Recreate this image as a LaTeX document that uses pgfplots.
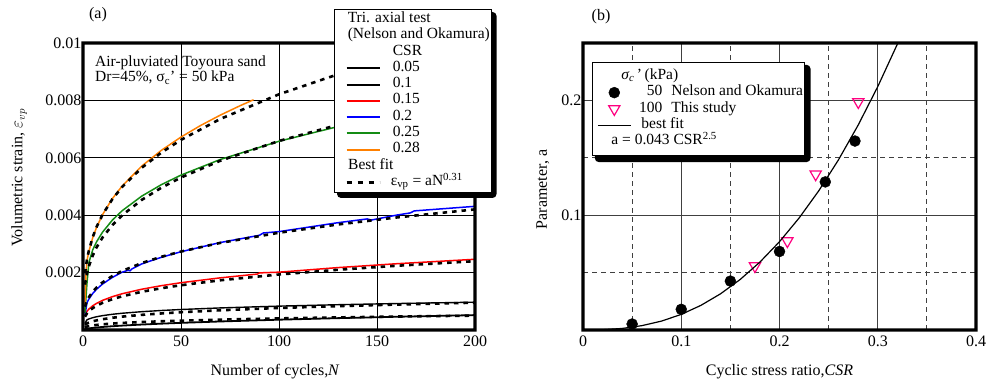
\documentclass[border=0pt]{standalone}
\usepackage{fontspec}
\setmainfont{Liberation Serif}
\usepackage{pgfplots}
\pgfplotsset{compat=1.18}
\definecolor{cgreen}{RGB}{20,140,20}
\definecolor{corange}{RGB}{255,128,0}
\definecolor{cpink}{RGB}{255,0,128}
\newcommand{\fs}{\fontsize{16}{18}\selectfont}
\newcommand{\fl}{\fontsize{15.5}{16.3}\selectfont}
\pgfplotsset{
  myaxis/.style={scale only axis, anchor=south west, clip mode=individual,
    axis line style={line width=2.6pt, black},
    tick label style={font=\fs}, label style={font=\fs},
    major tick length=0pt, minor tick length=0pt,
    /pgf/number format/assume math mode=true,
    scaled ticks=false, legend cell align=left},
  fit/.style={black, line width=2.6pt, dash pattern=on 4.5pt off 5pt},
  markleg/.style={legend image code/.code={\path (-4pt,0pt) (33pt,0pt); \draw[##1] plot coordinates {(16.5pt,0pt)};}},
  fitleg/.style={legend image code/.code={\path (-10pt,0pt); \draw[##1, line width=2.6pt, dash pattern=on 5pt off 6pt] (0pt,0pt) -- (33pt,0pt);}},
}
\begin{document}
\begin{tikzpicture}[x=1pt,y=1pt]
\useasboundingbox (0pt,0pt) rectangle (987pt,385pt);
\begin{axis}[myaxis, at={(83pt,55pt)}, width=392pt, height=287pt,
  xmin=0, xmax=200, ymin=0, ymax=0.01,
  xtick={0,50,100,150,200}, xticklabels={0,50,100,150,200},
  ytick={0.002,0.004,0.006,0.008,0.01}, yticklabels={0.002,0.004,0.006,0.008,0.01},
  xticklabel style={yshift=-2pt},
  yticklabel style={inner sep=1.5pt},
  grid=major, major grid style={black, line width=0.8pt},
  xlabel={Number of cycles,\textit{N}},
  ylabel={Volumetric strain, $\varepsilon_{vp}$},
  xlabel style={at={(axis description cs:0.49,-0.146)}, anchor=center},
  ylabel style={at={(axis description cs:-0.163,0.53)}, anchor=center},
  legend image code/.code={\path (-10pt,0pt); \draw[#1, line width=2pt] (0pt,0pt) -- (33pt,0pt);},
  legend style={at={(0.6403,1.1185)}, anchor=north west, font=\fl,
    draw=black, fill=white,
    inner xsep=1pt, inner ysep=2pt, column sep=12pt, row sep=0pt,
    nodes={inner sep=0pt, text height=11.3pt, text depth=5pt}},
]
\addlegendimage{empty legend}\addlegendentry{\hspace*{-45pt}Tri. axial test}
\addlegendimage{empty legend}\addlegendentry{\hspace*{-45pt}(Nelson and Okamura)}
\addlegendimage{empty legend}\addlegendentry{CSR}
% CSR 0.05
\addplot[black, line width=1.8pt] coordinates {(1,0.0000313)(2,0.0000452)(3,0.000056)(5,0.0000735)(7,0.0000878)(10,0.000106)(15,0.000131)(20,0.000153)(30,0.00019)(40,0.000221)(50,0.000249)(70,0.000297)(100,0.000359)(130,0.000413)(160,0.000461)(200,0.000519)};
\addlegendentry{0.05}
% CSR 0.1
\addplot[black, line width=1.4pt] coordinates {(1,0.00024)(2,0.000352)(3,0.000385)(5,0.00043)(7,0.000463)(10,0.000501)(15,0.000548)(20,0.000584)(30,0.000638)(40,0.00068)(50,0.000714)(70,0.000769)(100,0.000832)(130,0.000881)(160,0.000922)(200,0.000969)};
\addlegendentry{0.1}
% CSR 0.15
\addplot[red, line width=1.5pt] coordinates {(1,0.0005)(2,0.000648)(3,0.000729)(5,0.000845)(7,0.000932)(10,0.001033)(15,0.001162)(20,0.001264)(30,0.001421)(40,0.001545)(50,0.001648)(70,0.001817)(89,0.00195)(90,0.00199)(100,0.002015)(130,0.002174)(160,0.002309)(200,0.002464)};
\addlegendentry{0.15}
% CSR 0.2
\addplot[blue, line width=1.5pt] coordinates {(1,0.0005)(2,0.000943)(3,0.001078)(5,0.001276)(7,0.001425)(10,0.001604)(15,0.001833)(20,0.002016)(23,0.00208)(24,0.00206)(25,0.00213)(30,0.002304)(40,0.002534)(50,0.002727)(70,0.003047)(90,0.0033)(92,0.00338)(100,0.003428)(130,0.003738)(145,0.00387)(147,0.00383)(160,0.004003)(167,0.00408)(169,0.00415)(200,0.004309)};
\addlegendentry{0.2}
% CSR 0.25
\addplot[cgreen, line width=1.5pt] coordinates {(1,0.0006)(1.5,0.0011)(2,0.0016)(3,0.00235)(5,0.0028)(7,0.003082)(10,0.003412)(15,0.00383)(20,0.004157)(30,0.004666)(40,0.005065)(50,0.005397)(70,0.00594)(100,0.006576)(130,0.007087)(160,0.007519)(200,0.008012)};
\addlegendentry{0.25}
% CSR 0.28
\addplot[corange, line width=1.5pt] coordinates {(1,0.0009)(1.5,0.0019)(2,0.00241)(3,0.00274)(5,0.003225)(7,0.00359)(10,0.004023)(15,0.004579)(20,0.005019)(30,0.005712)(40,0.006261)(50,0.006723)(60,0.007126)(70,0.007485)(80,0.00781)(87,0.008022)};
\addlegendentry{0.28}
\addlegendimage{empty legend}\addlegendentry{\hspace*{-45pt}Best fit}
% fits
\addplot[fit, fitleg] coordinates {(1,0.00197)(2,0.002442)(3,0.002769)(5,0.003244)(7,0.003601)(10,0.004022)(15,0.004561)(20,0.004986)(30,0.005654)(40,0.006182)(50,0.006624)(70,0.007352)(100,0.008212)(130,0.008908)(160,0.0095)(200,0.010181)};
\addlegendentry{\hspace*{-2pt}ε\textsubscript{vp} = aN\textsuperscript{0.31}}
\addplot[fit, forget plot] coordinates {(1,0.00158)(2,0.001959)(3,0.002221)(5,0.002602)(7,0.002888)(10,0.003226)(15,0.003658)(20,0.003999)(30,0.004535)(40,0.004958)(50,0.005313)(70,0.005897)(100,0.006587)(130,0.007145)(160,0.00762)(200,0.008166)};
\addplot[fit, forget plot] coordinates {(1,0.000813)(2,0.001008)(3,0.001143)(5,0.001339)(7,0.001486)(10,0.00166)(15,0.001882)(20,0.002058)(30,0.002334)(40,0.002551)(50,0.002734)(70,0.003034)(100,0.003389)(130,0.003676)(160,0.003921)(200,0.004202)};
\addplot[fit, forget plot] coordinates {(1,0.000464)(2,0.000575)(3,0.000652)(5,0.000764)(7,0.000848)(10,0.000947)(15,0.001074)(20,0.001174)(30,0.001332)(40,0.001456)(50,0.00156)(70,0.001732)(100,0.001934)(130,0.002098)(160,0.002238)(200,0.002398)};
\addplot[fit, forget plot] coordinates {(1,0.000184)(2,0.000228)(3,0.000259)(5,0.000303)(7,0.000336)(10,0.000376)(15,0.000426)(20,0.000466)(30,0.000528)(40,0.000577)(50,0.000619)(70,0.000687)(100,0.000767)(130,0.000832)(160,0.000887)(200,0.000951)};
\addplot[fit, forget plot] coordinates {(1,0.000097)(2,0.00012)(3,0.000136)(5,0.00016)(7,0.000177)(10,0.000198)(15,0.000225)(20,0.000246)(30,0.000278)(40,0.000304)(50,0.000326)(70,0.000362)(100,0.000404)(130,0.000439)(160,0.000468)(200,0.000501)};
% frame ring and legend shadow (fills, drawn before the legend)
\fill[black, even odd rule] (axis description cs:-0.0043,-0.0059) rectangle (axis description cs:1.0043,1.0059)
   (axis description cs:0.0043,0.0059) rectangle (axis description cs:0.9957,0.9941);
\fill[black, rounded corners=4pt] (axis description cs:0.6480,0.4600) rectangle (axis description cs:1.0550,1.1080);
\node[font=\fl, anchor=base west, inner sep=0pt] at (axis description cs:0.0306,0.9164) {Air-pluviated Toyoura sand};
\node[font=\fl, anchor=base west, inner sep=0pt] at (axis description cs:0.0306,0.8641) {Dr=45\%, σ\textsubscript{c}' = 50 kPa};
\end{axis}

\begin{axis}[myaxis, at={(583pt,55pt)}, width=393pt, height=287pt,
  xmin=0, xmax=0.4, ymin=0, ymax=0.25,
  xtick={0,0.1,0.2,0.3,0.4}, xticklabels={0,0.1,0.2,0.3,0.4},
  minor xtick={0.05,0.15,0.25,0.35},
  ytick={0.1,0.2}, yticklabels={0.1,0.2},
  minor ytick={0.05,0.15},
  xticklabel style={yshift=-2pt},
  yticklabel style={inner sep=1.5pt},
  grid=both, major grid style={black!75, line width=0.8pt},
  minor grid style={black!75, line width=0.8pt, dash pattern=on 5pt off 4pt},
  xlabel={Cyclic stress ratio,\textit{CSR}},
  ylabel={Parameter, a},
  xlabel style={at={(axis description cs:0.5,-0.146)}, anchor=center},
  ylabel style={at={(axis description cs:-0.102,0.49)}, anchor=center},
  legend image code/.code={\path (-4pt,0pt); \draw[#1] (0pt,0pt) -- (33pt,0pt);},
  legend style={at={(0.0229,0.9338)}, anchor=north west, font=\fl,
    draw=black, fill=white,
    inner xsep=1pt, inner ysep=6pt, column sep=8pt, row sep=0pt,
    nodes={inner sep=0pt, text height=11.3pt, text depth=5pt}},
]
\addlegendimage{empty legend}\addlegendentry{\hspace*{-18pt}\textit{σ\textsubscript{c}}\,'\,(kPa)}
\addplot[only marks, mark=*, mark size=5.5pt, black, markleg]
  coordinates {(0.05,0.0052)(0.1,0.018)(0.15,0.0426)(0.2,0.0684)(0.2466,0.129)(0.2768,0.1646)};
\addlegendentry{\makebox[23pt][r]{50}\hspace{9pt}Nelson and Okamura}
\addplot[only marks, mark=triangle, mark size=6.5pt, cpink, line width=1.2pt, mark options={rotate=180}, markleg]
  coordinates {(0.175,0.0557)(0.208,0.0775)(0.2368,0.1357)(0.2802,0.1986)};
\addlegendentry{\makebox[23pt][r]{100}\hspace{9pt}This study}
\addplot[black, line width=1.2pt] coordinates {(0,0)(0.02,0.00024)(0.04,0.00138)(0.06,0.00379)(0.08,0.00778)(0.1,0.0136)(0.12,0.02145)(0.14,0.03154)(0.16,0.04403)(0.18,0.0591)(0.2,0.07693)(0.22,0.0976)(0.24,0.1213)(0.26,0.1482)(0.28,0.1784)(0.3,0.212)(0.32,0.2491)(0.33,0.269)};
\addlegendentry{\hspace*{2pt}best fit}
\addlegendimage{empty legend}\addlegendentry{\hspace*{-28pt}a = 0.043 CSR\textsuperscript{2.5}}
\fill[black, even odd rule] (axis description cs:-0.0043,-0.0059) rectangle (axis description cs:1.0043,1.0059)
   (axis description cs:0.0043,0.0059) rectangle (axis description cs:0.9957,0.9941);
\fill[black, rounded corners=4pt] (axis description cs:0.0300,0.5850) rectangle (axis description cs:0.5790,0.9240);
\end{axis}
\node[font=\fs] at (98pt,370pt) {(a)};
\node[font=\fs] at (601pt,368pt) {(b)};
\end{tikzpicture}
\end{document}
